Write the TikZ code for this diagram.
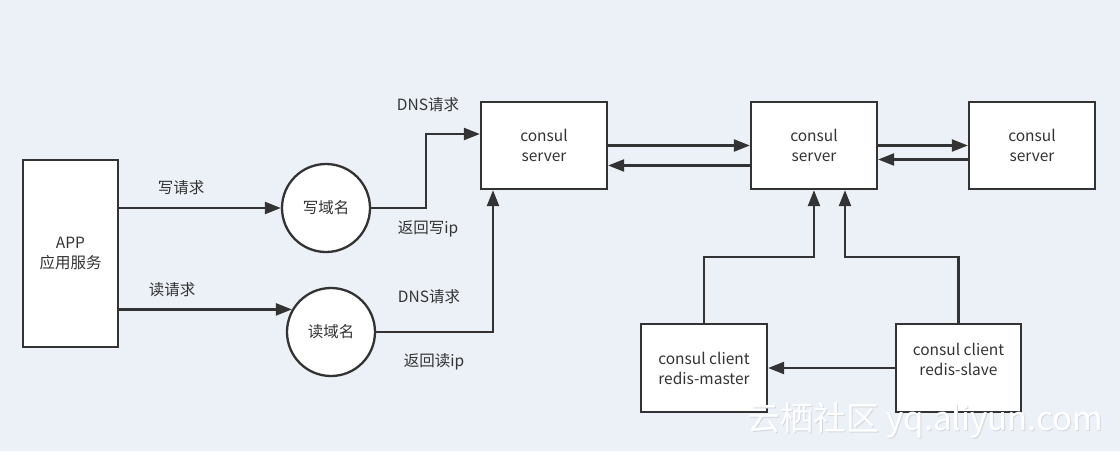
\documentclass[tikz,border=0pt]{standalone}
\usepackage{fontspec}
\setmainfont{Noto Sans CJK SC}
\usetikzlibrary{arrows.meta}
\definecolor{bgc}{RGB}{236,241,248}
\definecolor{ink}{RGB}{51,51,51}
\definecolor{wm}{RGB}{212,216,222}
\tikzset{
  box/.style={draw=ink, line width=2.3pt, fill=white, inner sep=0pt, align=center, text=ink, font=\fontsize{15.5}{20}\selectfont},
  dom/.style={draw=ink, line width=2.3pt, fill=white, circle, minimum size=88pt, inner sep=0pt, text=ink, font=\fontsize{15.5}{20}\selectfont},
  arr/.style={draw=ink, line width=2.3pt, -{Triangle[length=16pt,width=12pt]}},
  lbl/.style={text=ink, font=\fontsize{15.5}{20}\selectfont, inner sep=0pt}
}
\begin{document}
\begin{tikzpicture}[x=1pt,y=-1pt]
\useasboundingbox[fill=bgc] (0,0) rectangle (1120,451);
% nodes
\node[box, minimum width=95pt, minimum height=187pt] (app) at (70.5,253.5) {APP\\应用服务};
\node[dom] (wr) at (326,208) {写域名};
\node[dom] (rd) at (331,332) {读域名};
\node[box, minimum width=126pt, minimum height=87pt] (s1) at (544,145.5) {consul\\server};
\node[box, minimum width=126pt, minimum height=87pt] (s2) at (814,145.5) {consul\\server};
\node[box, minimum width=126pt, minimum height=87pt] (s3) at (1032,145.5) {consul\\server};
\node[box, minimum width=126pt, minimum height=88pt] (cm) at (704,368) {consul client\\redis-master};
\node[box, minimum width=125pt, minimum height=88pt,
  label={[lbl, align=center, yshift=9pt]center:{consul client\\redis-slave}}] (cs) at (958.5,368) {};
% labels
\node[lbl] (l1) at (181,188) {写请求};
\node[lbl] (l2) at (172,290) {读请求};
\node[lbl] (l3) at (428,105) {DNS请求};
\node[lbl] (l4) at (428,229) {返回写ip};
\node[lbl] (l5) at (429,297) {DNS请求};
\node[lbl] (l6) at (434,362) {返回读ip};
% connectors
\draw[arr] (app.east |- wr.west) -- (wr.west);
\draw[arr] (app.east |- rd.150) -- (rd.150);
\draw[arr] (wr.east) -- ++(55,0) |- ([yshift=11.5pt]s1.west);
\draw[arr] (rd.east) -| ([xshift=-51pt]s1.south);
\draw[arr] (s1.east) -- (s2.west);
\draw[arr] ([yshift=-20pt]s2.west) -- ([yshift=-20pt]s1.east);
\draw[arr] (s2.east) -- (s3.west);
\draw[arr] ([yshift=-14pt]s3.west) -- ([yshift=-14pt]s2.east);
\draw[arr] (cm.north) -- ++(0,-66) -| (s2.south);
\draw[arr] (cs.north) -- ++(0,-66) -| ([xshift=31pt]s2.south);
\draw[arr] (cs.west) -- (cm.east);
% watermark
\node[text=wm, font=\fontsize{33}{36}\selectfont, inner sep=0pt] (wm1) at (926,421) {云栖社区 yq.aliyun.com};
\node[text=white, font=\fontsize{33}{36}\selectfont, inner sep=0pt] (wm2) at (925,420) {云栖社区 yq.aliyun.com};
\end{tikzpicture}
\end{document}
